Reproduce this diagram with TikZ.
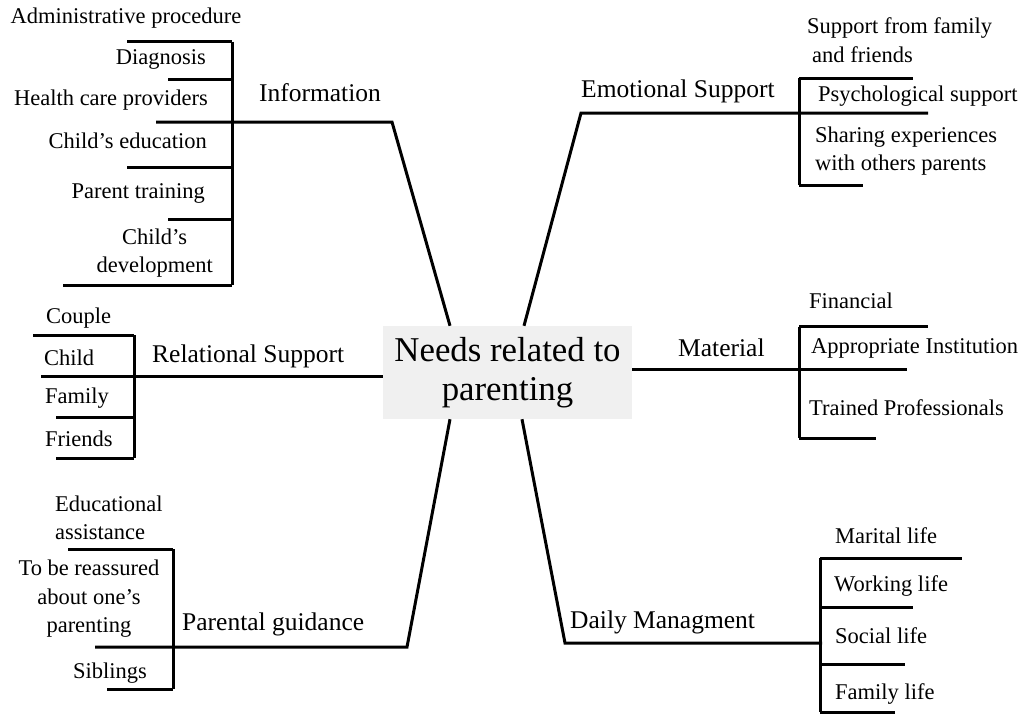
\documentclass[tikz,border=0pt]{standalone}
\usepackage{fontspec}
\setmainfont{Liberation Serif}
\usetikzlibrary{positioning}
\usepackage{xcolor}
\definecolor{rootgray}{HTML}{F0F0F0}

\tikzset{
  leaf/.style={font=\fontsize{22.5}{28.5}\selectfont, inner sep=0pt},
  branch/.style={font=\fontsize{25.5}{30}\selectfont, inner sep=0pt},
  link/.style={line width=3pt},
}

\begin{document}
\begin{tikzpicture}[x=1pt, y=-1pt]
\useasboundingbox (0,0) rectangle (1028,713);

% Central topic
\node[fill=rootgray, minimum width=249pt, minimum height=93pt, align=center,
      font=\fontsize{34.8}{39}\selectfont] (root) at (507.5,372.5) {Needs related to\\parenting};

% Information
\node[branch] (info) at (320,93) {Information};
\coordinate (infoK) at (392,122);
\coordinate (infoT) at (232,41.7);
\coordinate (infoB) at (232,285);
\draw[link] ([xshift=-57.5pt]root.north) -- (infoK) -- (156,122);
\draw[link] (infoT) -- (infoB);
\foreach \y/\xl in {41.7/127, 79/168, 167/127, 219/168, 285/63}
    \draw[link] (\xl,\y) -- (infoT |- 0,\y);
\node[leaf] (admin) at (126,18) {Administrative procedure};
\node[leaf, anchor=east] (diag) at (206,59) {Diagnosis};
\node[leaf, anchor=east] (hcp) at (208,100) {Health care providers};
\node[leaf, anchor=east] (cedu) at (207,141) {Child's education};
\node[leaf, anchor=east] (ptrain) at (205,193) {Parent training};
\node[leaf, anchor=east, align=center] (cdev) at (213,253) {Child's\\development};

% Emotional Support
\node[branch, anchor=west] (emo) at (581,91) {Emotional Support};
\coordinate (emoK) at (581,113);
\coordinate (emoT) at (799,78);
\coordinate (emoB) at (799,185);
\draw[link] ([xshift=16.5pt]root.north) -- (emoK) -- (928,113);
\draw[link] (emoT) -- (emoB);
\foreach \y/\xr in {78/913, 185/863}
    \draw[link] (emoT |- 0,\y) -- (\xr,\y);
\node[leaf, anchor=west, align=left] (fam) at (807,40) {Support from family\\\hspace*{5pt}and friends};
\node[leaf, anchor=west] (psy) at (818,96) {Psychological support};
\node[leaf, anchor=west, align=left] (share) at (815,151) {Sharing experiences\\with others parents};

% Relational Support
\node[branch, anchor=west] (rel) at (152,356) {Relational Support};
\coordinate (relT) at (134,335);
\coordinate (relB) at (134,458);
\draw[link] ([yshift=-3.5pt]root.west) -- (41,376);
\draw[link] (relT) -- (relB);
\foreach \y/\xl in {335/33, 417/56, 458/56}
    \draw[link] (\xl,\y) -- (relT |- 0,\y);
\node[leaf, anchor=west] (couple) at (46,318) {Couple};
\node[leaf, anchor=west] (child) at (44,358) {Child};
\node[leaf, anchor=west] (family) at (45,398) {Family};
\node[leaf, anchor=west] (friends) at (45,439) {Friends};

% Material
\node[branch, anchor=west] (mat) at (678,348) {Material};
\coordinate (matT) at (799,327);
\coordinate (matB) at (799,438);
\draw[link] ([yshift=3.5pt]root.east) -- (907,369);
\draw[link] (matT) -- (matB);
\foreach \y/\xr in {326/928, 438/876}
    \draw[link] (matT |- 0,\y) -- (\xr,\y);
\node[leaf, anchor=west] (fin) at (809,301) {Financial};
\node[leaf, anchor=west] (inst) at (811,348) {Appropriate Institution};
\node[leaf, anchor=west] (prof) at (809,408) {Trained Professionals};

% Parental guidance
\node[branch, anchor=west] (par) at (182,624) {Parental guidance};
\coordinate (parK) at (407,647);
\coordinate (parT) at (173,549);
\coordinate (parB) at (173,689);
\draw[link] ([xshift=-57.5pt]root.south) -- (parK) -- (95,647);
\draw[link] (parT) -- (parB);
\foreach \y/\xl in {549/68, 689/107}
    \draw[link] (\xl,\y) -- (parT |- 0,\y);
\node[leaf, anchor=west, align=left] (edu) at (55,518) {Educational\\assistance};
\node[leaf, align=center] (reass) at (89,599) {To be reassured\\about one's\\parenting};
\node[leaf, anchor=west] (sib) at (73,673) {Siblings};

% Daily Managment
\node[branch, anchor=west] (daily) at (570,622) {Daily Managment};
\coordinate (dailyK) at (565,643);
\coordinate (dailyT) at (820,558);
\coordinate (dailyB) at (820,712);
\draw[link] ([xshift=14.5pt]root.south) -- (dailyK) -- (822,643);
\draw[link] (dailyT) -- (dailyB);
\foreach \y/\xr in {558/962, 607/913, 664/905, 712/895}
    \draw[link] (dailyT |- 0,\y) -- (\xr,\y);
\node[leaf, anchor=west] (marital) at (835,536) {Marital life};
\node[leaf, anchor=west] (working) at (834,586) {Working life};
\node[leaf, anchor=west] (social) at (835,636) {Social life};
\node[leaf, anchor=west] (famlife) at (835,694) {Family life};
\end{tikzpicture}
\end{document}
